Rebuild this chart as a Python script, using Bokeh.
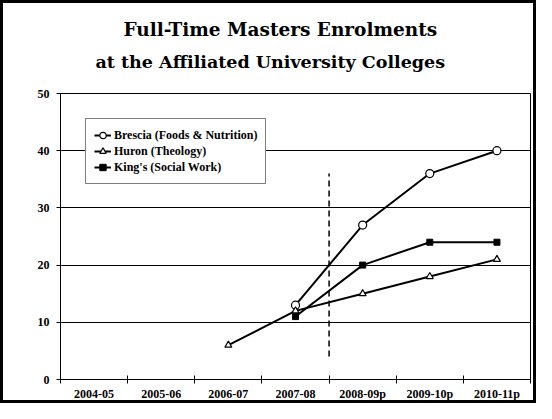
import numpy as np
from bokeh.plotting import figure
from bokeh.models import Range1d, FixedTicker, Legend, Title
from bokeh.embed import file_html
from bokeh.resources import INLINE

# ---- data ----
categories = ["2004-05", "2005-06", "2006-07", "2007-08", "2008-09p", "2009-10p", "2010-11p"]
brescia = [None, None, None, 13, 27, 36, 40]
huron = [None, None, 6, 12, 15, 18, 21]
kings = [None, None, None, 11, 20, 24, 24]
series_names = ["Brescia (Foods & Nutrition)", "Huron (Theology)", "King's (Social Work)"]
y_ticks = [0, 10, 20, 30, 40, 50]
cutoff_after = "2007-08"
cutoff_span = [4, 36]
title_lines = ["Full-Time Masters Enrolments", "at the Affiliated University Colleges"]

SERIF = "serif"

def arr(v):
    return np.array([np.nan if a is None else a for a in v], dtype=float)

centers = [i + 0.5 for i in range(len(categories))]
bounds = list(range(len(categories) + 1))

p = figure(width=530, height=397, output_backend="svg", toolbar_location=None,
           x_range=Range1d(0, len(categories)), y_range=Range1d(y_ticks[0], y_ticks[-1]),
           min_border_left=57, min_border_right=9, min_border_top=90, min_border_bottom=27,
           background_fill_color="white", border_fill_color="white")
p.styles = {"border": "3px solid black", "box-sizing": "content-box"}
p.outline_line_color = "black"
p.outline_line_width = 1

# axes
xa = p.xaxis[0]
xa.ticker = FixedTicker(ticks=centers, minor_ticks=bounds)
xa.major_label_overrides = {c: lab for c, lab in zip(centers, categories)}
xa.major_tick_line_color = None
xa.major_tick_in = 0
xa.major_tick_out = 0
xa.minor_tick_line_color = "black"
xa.minor_tick_in = 4
xa.minor_tick_out = 4
xa.minor_tick_line_width = 1
xa.axis_line_color = "black"
xa.major_label_standoff = 3
xa.axis_label_standoff = 0
xa.major_label_text_font = SERIF
xa.major_label_text_font_style = "bold"
xa.major_label_text_font_size = "12px"
xa.major_label_text_color = "black"

ya = p.yaxis[0]
ya.ticker = FixedTicker(ticks=y_ticks)
ya.minor_tick_line_color = None
ya.major_tick_in = 0
ya.major_tick_out = 4
ya.major_tick_line_color = "black"
ya.axis_line_color = "black"
ya.major_label_standoff = 7
ya.major_label_text_font = SERIF
ya.major_label_text_font_style = "bold"
ya.major_label_text_font_size = "12px"
ya.major_label_text_color = "black"

p.xgrid.visible = False
p.ygrid.ticker = FixedTicker(ticks=y_ticks)
p.ygrid.grid_line_color = "black"
p.ygrid.grid_line_width = 1

# dashed cutoff
cx = categories.index(cutoff_after) + 1
p.line([cx, cx], cutoff_span, line_color="black", line_width=1.5, line_dash="6 4")

# series
b = arr(brescia); h = arr(huron); k = arr(kings)
r1 = p.line(centers, b, line_color="black", line_width=2)
m1 = p.scatter(centers, b, marker="circle", size=8, fill_color="white", line_color="black", line_width=1.2)
r2 = p.line(centers, h, line_color="black", line_width=2)
m2 = p.scatter(centers, h, marker="triangle", size=7, fill_color="white", line_color="black", line_width=1.2)
r3 = p.line(centers, k, line_color="black", line_width=2)
m3 = p.scatter(centers, k, marker="square", size=6, fill_color="black", line_color="black")

legend = Legend(items=[(series_names[0], [r1, m1]), (series_names[1], [r2, m2]), (series_names[2], [r3, m3])],
                location=(25, 195))
legend.border_line_color = "black"
legend.border_line_width = 1
legend.background_fill_color = "white"
legend.background_fill_alpha = 1
legend.label_text_font = SERIF
legend.label_text_font_style = "bold"
legend.label_text_font_size = "12px"
legend.label_text_color = "black"
legend.glyph_width = 17
legend.glyph_height = 16
legend.label_height = 16
legend.label_standoff = 3
legend.spacing = 0
legend.padding = 8
legend.margin = 0
p.add_layout(legend)

# titles (first added sits closest to the plot area)
p.add_layout(Title(text=" ", text_font_size="2px", standoff=14), "above")
p.add_layout(Title(text=title_lines[1], align="left", offset=35, text_font="DejaVu Serif", text_font_style="bold",
                   text_font_size="17.5px", text_color="black", standoff=8), "above")
p.add_layout(Title(text=title_lines[0], align="left", offset=63, text_font="DejaVu Serif", text_font_style="bold",
                   text_font_size="18.5px", text_color="black", standoff=12), "above")

open("out.html", "w").write(file_html(p, INLINE))
